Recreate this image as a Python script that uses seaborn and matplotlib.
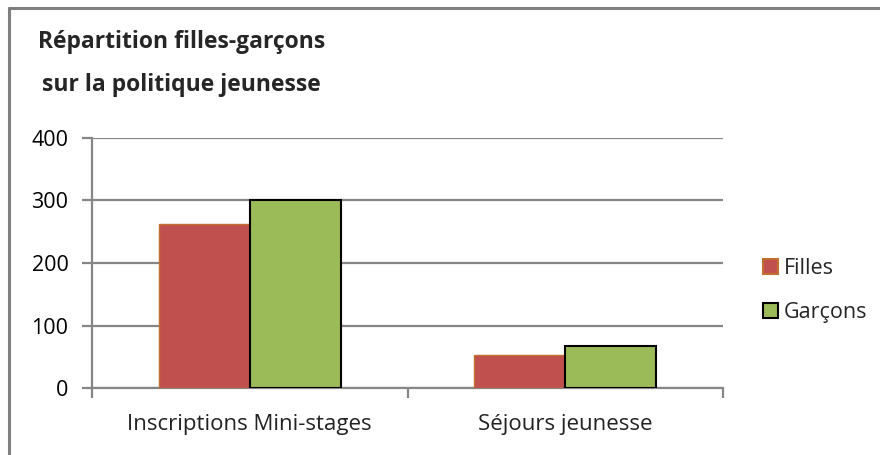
import matplotlib
matplotlib.use("Agg")
import matplotlib.pyplot as plt
from matplotlib.lines import Line2D
from matplotlib.patches import Patch
import seaborn as sns
import pandas as pd

# données
categories = ["Inscriptions Mini-stages", "Séjours jeunesse"]
series = ["Filles", "Garçons"]
filles = [262, 53]
garcons = [300, 68]
y_ticks = [0, 100, 200, 300, 400]

df = pd.DataFrame({
    "Catégorie": categories * 2,
    "Série": [series[0]] * 2 + [series[1]] * 2,
    "Valeur": filles + garcons,
})

colors = {"Filles": "#C0504D", "Garçons": "#9BBB59"}
edges = {"Filles": "#C0702F", "Garçons": "#000000"}
grid_col = "#868686"

sns.set_style("white")
plt.rcParams["font.family"] = ["Open Sans", "DejaVu Sans"]

fig = plt.figure(figsize=(8.8, 4.55), dpi=100)
ax = fig.add_axes([92 / 880, 67 / 455, 631 / 880, 250 / 455])

sns.barplot(data=df, x="Catégorie", y="Valeur", hue="Série", order=categories,
            hue_order=series, palette=colors, width=0.577, ax=ax, legend=False,
            saturation=1)

for cont, name in zip(ax.containers, series):
    for bar in cont:
        bar.set_edgecolor(edges[name])
        bar.set_linewidth(1.5 if name == "Garçons" else 1.0)
        bar.set_zorder(3)

ax.set_xlim(-0.5, 1.5)
ax.set_ylim(0, 400)
ax.set_yticks(y_ticks)
ax.yaxis.grid(True, color=grid_col, linewidth=1.6, zorder=0)
ax.set_axisbelow(True)
ax.set_xlabel("")
ax.set_ylabel("")

for side in ["top", "right"]:
    ax.spines[side].set_visible(False)
for side in ["left", "bottom"]:
    ax.spines[side].set_color(grid_col)
    ax.spines[side].set_linewidth(1.6)

ax.tick_params(axis="y", length=7, width=1.6, color=grid_col, labelsize=15.5,
               pad=10, left=True, labelcolor="#000000")
ax.tick_params(axis="x", which="major", length=0, labelsize=16, pad=19,
               labelcolor="#222222")
ax.set_xticks([-0.5, 0.5, 1.5], minor=True)
ax.tick_params(axis="x", which="minor", length=7, width=1.6, color=grid_col,
               bottom=True)

title_lines = ["Répartition filles-garçons", "sur la politique jeunesse"]
fig.text(38 / 880, 1 - 48 / 455, title_lines[0], fontsize=16.5, fontweight="bold",
         ha="left", va="baseline")
fig.text(42 / 880, 1 - 91 / 455, title_lines[1], fontsize=16.5, fontweight="bold",
         ha="left", va="baseline")

handles = [Patch(facecolor=colors[s], edgecolor=edges[s], linewidth=1.5) for s in series]
fig.legend(handles, series, loc="upper left", bbox_to_anchor=(754 / 880, 1 - 249 / 455),
           frameon=False, fontsize=15.5, handlelength=0.7, handleheight=0.7,
           handletextpad=0.3, labelspacing=1.1, borderaxespad=0)

# cadre du graphique
fig.add_artist(Line2D([9 / 880, 1], [1 - 8 / 455, 1 - 8 / 455], color="#7F7F7F", linewidth=2.2))
fig.add_artist(Line2D([9 / 880, 9 / 880], [0, 1 - 8 / 455], color="#7F7F7F", linewidth=2.2))

fig.savefig("out.png", dpi=100)
